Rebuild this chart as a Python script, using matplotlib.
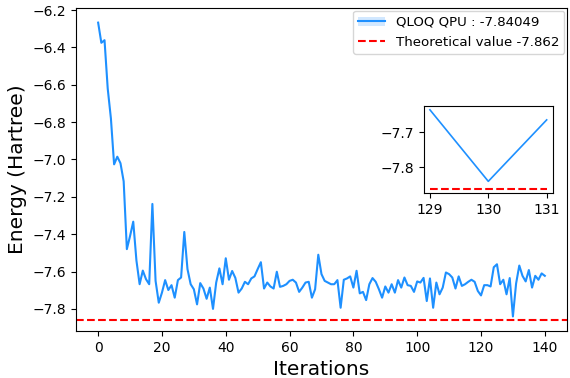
import numpy as np
import matplotlib
matplotlib.use("Agg")
import matplotlib.pyplot as plt
from matplotlib.lines import Line2D
from matplotlib.patches import Patch

# ----------------------------
# Data
# ----------------------------
energy = [
    -6.267, -6.375, -6.361, -6.62, -6.78, -7.026, -6.985, -7.02, -7.117, -7.48,
    -7.41, -7.333, -7.541, -7.668, -7.595, -7.641, -7.668, -7.238, -7.65, -7.767,
    -7.713, -7.646, -7.699, -7.673, -7.74, -7.646, -7.632, -7.388, -7.587, -7.668,
    -7.695, -7.776, -7.662, -7.691, -7.746, -7.686, -7.80, -7.659, -7.583, -7.668,
    -7.529, -7.644, -7.597, -7.634, -7.713, -7.691, -7.655, -7.668, -7.637, -7.626,
    -7.587, -7.55, -7.691, -7.659, -7.68, -7.691, -7.601, -7.682, -7.677, -7.668,
    -7.65, -7.644, -7.659, -7.709, -7.686, -7.659, -7.655, -7.74, -7.695, -7.51,
    -7.614, -7.65, -7.659, -7.668, -7.668, -7.646, -7.794, -7.644, -7.637, -7.626,
    -7.686, -7.596, -7.717, -7.709, -7.753, -7.668, -7.635, -7.655, -7.695, -7.74,
    -7.68, -7.713, -7.668, -7.713, -7.646, -7.686, -7.632, -7.673, -7.677, -7.709,
    -7.653, -7.659, -7.634, -7.758, -7.637, -7.794, -7.659, -7.722, -7.686, -7.605,
    -7.614, -7.632, -7.691, -7.626, -7.677, -7.668, -7.655, -7.644, -7.655, -7.704,
    -7.728, -7.673, -7.673, -7.68, -7.577, -7.561, -7.668, -7.644, -7.722, -7.635,
    -7.84049, -7.664, -7.568, -7.623, -7.653, -7.592, -7.686, -7.623, -7.644, -7.61,
    -7.623,
]
iterations = np.arange(len(energy))
best_energy = -7.84049
theoretical = -7.862
zoom_range = (129, 131)

BLUE = "dodgerblue"

fig = plt.figure(figsize=(5.7, 3.78), dpi=100)
ax = fig.add_axes([0.133, 0.124, 0.862, 0.855])

ax.plot(iterations, energy, color=BLUE, lw=1.5)
ax.axhline(theoretical, color="red", ls="--", lw=1.5)

ax.set_xlabel("Iterations", fontsize=14.5)
ax.set_ylabel("Energy (Hartree)", fontsize=14.5)
ax.tick_params(labelsize=10)

handles = [
    (Patch(facecolor=BLUE, alpha=0.2, edgecolor="none"),
     Line2D([], [], color=BLUE, lw=1.5)),
    Line2D([], [], color="red", ls="--", lw=1.5),
]
labels = [f"QLOQ QPU : {best_energy}", f"Theoretical value {theoretical}"]
ax.legend(handles, labels, loc="upper right", fontsize=9.6,
          handlelength=2.0, borderaxespad=0.2)

# inset zoom around the best iteration
ins = fig.add_axes([0.744, 0.490, 0.2253, 0.230])
lo, hi = zoom_range
ins.plot(iterations[lo:hi + 1], energy[lo:hi + 1], color=BLUE, lw=1.2)
ins.plot([lo, hi], [theoretical, theoretical], color="red", ls="--", lw=1.5)
ins.set_xticks([129, 130, 131])
ins.set_yticks([-7.7, -7.8])
ins.tick_params(labelsize=10)

fig.savefig("out.png", dpi=100)
